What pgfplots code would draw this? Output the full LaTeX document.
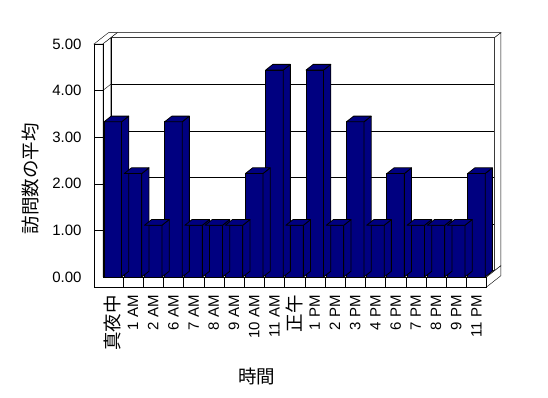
\documentclass[border=0pt]{standalone}
\usepackage{fontspec}
\setmainfont{Liberation Sans}
\newfontfamily\cjk{Noto Sans CJK JP}
\usepackage{pgfplots}
\pgfplotsset{compat=1.18}
\definecolor{barblue}{RGB}{0,0,128}
\newcommand\jp[1]{{\fontsize{18.5}{20}\cjk #1}}
\pgfplotstableread{
x v
0 3.33
1 2.22
2 1.11
3 3.33
4 1.11
5 1.11
6 1.11
7 2.22
8 4.44
9 1.11
10 4.44
11 1.11
12 3.33
13 1.11
14 2.22
15 1.11
16 1.11
17 1.11
18 2.22
}\visits
\begin{document}
\begin{tikzpicture}[line width=0.8pt]
\useasboundingbox (0,0) rectangle (548pt,398pt);
\begin{axis}[
  at={(102.7pt,121pt)}, anchor=south west,
  x=20.2pt, y=46.6pt,
  xmin=-0.5, xmax=18.5, ymin=0, ymax=5,
  enlargelimits=false, clip=false,
  axis line style={draw=none}, major tick length=0pt,
  xtick={0,...,18},
  xticklabels={\jp{真夜中},1 AM,2 AM,6 AM,7 AM,8 AM,9 AM,10 AM,11 AM,\jp{正午},1 PM,2 PM,3 PM,4 PM,6 PM,7 PM,8 PM,9 PM,11 PM},
  xticklabel style={rotate=90, anchor=east, inner sep=0pt, font=\fontsize{15}{15}\selectfont},
  xticklabel shift=18pt,
  ytick={0,...,5},
  yticklabels={0.00,1.00,2.00,3.00,4.00,5.00},
  yticklabel style={anchor=east, inner sep=0pt, xshift=-21pt, font=\fontsize{15}{15}\selectfont},
  xlabel={\jp{時間}}, xlabel style={at={(axis description cs:0.402,-0.429)}, anchor=center},
  ylabel={\jp{訪問数の平均}}, ylabel style={at={(axis description cs:-0.1894,0.4206)}, anchor=center},
]
\begin{scope}[shift={(axis cs:-0.5,0)}]
 % back wall
 \filldraw[fill=white] (8pt,6.3pt) rectangle (391.8pt,239.3pt);
 \draw (8pt,52.9pt) -- (391.8pt,52.9pt) (8pt,99.5pt) -- (391.8pt,99.5pt)
       (8pt,146.1pt) -- (391.8pt,146.1pt) (8pt,192.7pt) -- (391.8pt,192.7pt);
 \filldraw[fill=white] (8pt,239.3pt) -- (391.8pt,239.3pt) -- (398.2pt,244.3pt) -- (14.4pt,244.3pt) -- cycle;
 \filldraw[fill=white] (391.8pt,6.3pt) -- (391.8pt,239.3pt) -- (398.2pt,244.3pt) -- (398.2pt,11.3pt) -- cycle;
 % floor
 \filldraw[fill=white] (0pt,0pt) -- (383.8pt,0pt) -- (391.8pt,6.3pt) -- (8pt,6.3pt) -- cycle;
 \filldraw[fill=white] (383.8pt,0pt) -- (383.8pt,-10pt) -- (398.2pt,1.3pt) -- (398.2pt,11.3pt) -- cycle;
 % left wall
 \filldraw[fill=white] (0pt,0pt) -- (8pt,6.3pt) -- (8pt,239.3pt) -- (0pt,233pt) -- cycle;
 \draw (0pt,46.6pt) -- (8pt,52.9pt) (0pt,93.2pt) -- (8pt,99.5pt)
       (0pt,139.8pt) -- (8pt,146.1pt) (0pt,186.4pt) -- (8pt,192.7pt);
 \filldraw[fill=white] (-8.7pt,233pt) -- (0pt,233pt) -- (14.4pt,244.3pt) -- (5.7pt,244.3pt) -- cycle;
 \filldraw[fill=white] (-8.7pt,233pt) -- (0pt,233pt) -- (0pt,0pt) -- (383.8pt,0pt) -- (383.8pt,-10pt) -- (-8.7pt,-10pt) -- cycle;
 \draw (-8.7pt,46.6pt) -- (0pt,46.6pt) (-8.7pt,93.2pt) -- (0pt,93.2pt)
       (-8.7pt,139.8pt) -- (0pt,139.8pt) (-8.7pt,186.4pt) -- (0pt,186.4pt);
 \draw (20.2pt,0pt) -- (20.2pt,-10pt) (40.4pt,0pt) -- (40.4pt,-10pt) (60.6pt,0pt) -- (60.6pt,-10pt)
       (80.8pt,0pt) -- (80.8pt,-10pt) (101pt,0pt) -- (101pt,-10pt) (121.2pt,0pt) -- (121.2pt,-10pt)
       (141.4pt,0pt) -- (141.4pt,-10pt) (161.6pt,0pt) -- (161.6pt,-10pt) (181.8pt,0pt) -- (181.8pt,-10pt)
       (202pt,0pt) -- (202pt,-10pt) (222.2pt,0pt) -- (222.2pt,-10pt) (242.4pt,0pt) -- (242.4pt,-10pt)
       (262.6pt,0pt) -- (262.6pt,-10pt) (282.8pt,0pt) -- (282.8pt,-10pt) (303pt,0pt) -- (303pt,-10pt)
       (323.2pt,0pt) -- (323.2pt,-10pt) (343.4pt,0pt) -- (343.4pt,-10pt) (363.6pt,0pt) -- (363.6pt,-10pt);
\end{scope}
% side and top faces of the bars
\addplot[only marks, mark=*, mark size=0pt, mark options={draw=none,fill=none},
  scatter,
  visualization depends on={rawy \as \h},
  scatter/@pre marker code/.code={%
    \pgfkeys{/pgf/fpu=false}%
    \pgfmathsetmacro\H{\h*46.6}%
    \filldraw[fill=barblue, draw=black, line width=0.8pt, line join=round]
      (8.75pt,0pt) -- ++(7.2pt,5.7pt) -- ++(0pt,-\H pt) -- (8.75pt,-\H pt) -- cycle;
    \filldraw[fill=barblue, draw=black, line width=0.8pt, line join=round]
      (-8.75pt,0pt) -- (8.75pt,0pt) -- (15.95pt,5.7pt) -- (-1.55pt,5.7pt) -- cycle;
  },
  scatter/@post marker code/.code={}
] table[x=x, y=v] {\visits};
% front faces
\addplot[ybar, bar width=17.5pt, bar shift=0pt, fill=barblue, draw=black, line width=0.8pt]
  table[x=x, y=v] {\visits};
\end{axis}
\end{tikzpicture}
\end{document}
